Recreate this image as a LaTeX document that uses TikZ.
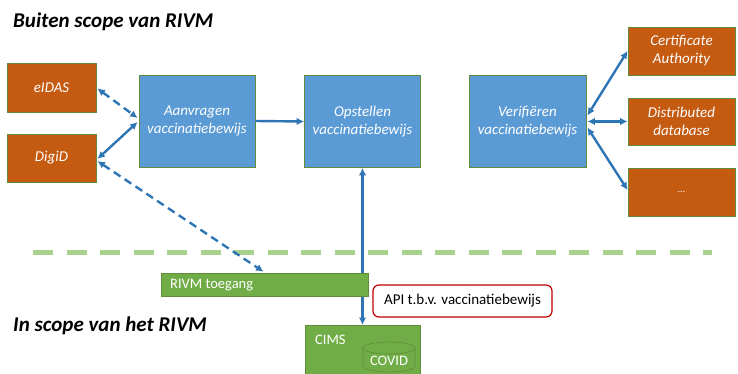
\documentclass[tikz,border=0pt]{standalone}
\usepackage{fontspec}
\setmainfont{Carlito}
\usetikzlibrary{arrows.meta,calc}
\definecolor{boxblue}{RGB}{91,155,213}
\definecolor{boxorange}{RGB}{197,90,17}
\definecolor{boxgreen}{RGB}{112,173,71}
\definecolor{edgegreen}{RGB}{96,140,60}
\definecolor{arrowblue}{RGB}{46,117,182}
\definecolor{dashgreen}{RGB}{169,209,142}
\definecolor{apired}{RGB}{192,0,0}
\tikzset{
  bluebox/.style={draw=edgegreen, line width=0.8pt, fill=boxblue, text=white, font=\fontsize{15}{18}\selectfont\itshape, align=center, inner sep=0pt, minimum width=116pt, minimum height=92pt},
  orangebox/.style={draw=edgegreen, line width=0.8pt, fill=boxorange, text=white, font=\fontsize{15}{18}\selectfont\itshape, align=center, inner sep=0pt},
  greenbox/.style={draw=edgegreen, line width=0.6pt, fill=boxgreen, text=white, inner sep=0pt},
  plaintext/.style={text=white, font=\fontsize{14.5}{17}\selectfont, inner sep=0pt},
  conn/.style={draw=arrowblue, line width=2.4pt},
  tip/.style={{Latex[length=7.5pt,width=7.5pt]}-{Latex[length=7.5pt,width=7.5pt]}},
  onetip/.style={-{Latex[length=7.5pt,width=7.5pt]}},
  dconn/.style={conn, dash pattern=on 8pt off 5pt},
  title/.style={font=\fontsize{21}{25}\selectfont\bfseries\itshape, anchor=west, inner sep=0pt}
}
\begin{document}
\begin{tikzpicture}[x=1pt,y=-1pt]
\useasboundingbox (0,0) rectangle (738,374);
% titles
\node[title] (t1) at (13,22) {Buiten scope van RIVM};
\node[title] (t2) at (13,326) {In scope van het RIVM};
% left orange boxes
\node[orangebox, minimum width=89pt, minimum height=49pt] (eidas) at (51.5,87.5) {eIDAS};
\node[orangebox, minimum width=89pt, minimum height=48pt] (digid) at (51.5,158) {DigiD};
% blue boxes
\node[bluebox] (aanv) at (197,121) {Aanvragen\\vaccinatiebewijs};
\node[bluebox] (opst) at (362.5,121.5) {Opstellen\\vaccinatiebewijs};
\node[bluebox, minimum width=117pt] (verif) at (527.5,121.5) {Verifiëren\\vaccinatiebewijs};
% right orange boxes
\node[orangebox, minimum width=107pt, minimum height=48pt] (cert) at (681.5,51) {Certificate\\Authority};
\node[orangebox, minimum width=107pt, minimum height=47pt] (dist) at (681.5,121.5) {Distributed\\database};
\node[orangebox, minimum width=107pt, minimum height=48pt] (dots) at (681.5,192) {\fontsize{10}{12}\selectfont\upshape ...};
% green dashed scope line
\coordinate (dl) at (33,252);
\coordinate (dr) at (712,252);
\draw[dashgreen, line width=5pt, dash pattern=on 20pt off 13.5pt] (dl) -- (dr);
% vertical connector (behind RIVM toegang)
\draw[conn, tip] (opst.south) -- (362.5,325);
% RIVM toegang
\node[greenbox, minimum width=207pt, minimum height=23pt] (rivm) at (264.5,284.5) {};
\node[plaintext, anchor=west] (rivmt) at (170,285) {RIVM toegang};
% CIMS
\node[greenbox, minimum width=115pt, minimum height=60pt, anchor=north] (cims) at (362.5,325) {};
\node[plaintext, anchor=west] (cimst) at (315,340) {CIMS};
% cylinder COVID
\draw[edgegreen, line width=0.6pt, fill=boxgreen] (363,348) -- (363,366) arc[start angle=180, end angle=360, x radius=26pt, y radius=6pt] -- (415,348);
\draw[edgegreen, line width=0.6pt, fill=boxgreen] (389,348) ellipse [x radius=26pt, y radius=6pt];
\node[plaintext] (covid) at (389,361) {COVID};
% API label
\node[draw=apired, line width=1.2pt, rounded corners=6pt, fill=white, minimum width=179pt, minimum height=32pt, font=\fontsize{15}{18}\selectfont, inner sep=0pt] (api) at (462.5,301) {API t.b.v. vaccinatiebewijs};
% connectors left
\draw[dconn, tip] ($(eidas.east)+(1,1)$) -- ($(aanv.west)+(-1,-3)$);
\draw[conn, tip] ($(digid.east)+(1,1)$) -- ($(aanv.west)+(-1,1)$);
\draw[dconn, tip] ($(digid.east)+(1,3)$) -- ($(rivm.north)+(-1,-1)$);
\draw[conn, onetip] (aanv.east) -- (opst.west);
% connectors right
\draw[conn, tip] ($(verif.east)+(1,-6)$) -- (cert.west);
\draw[conn, tip] ($(verif.east)+(1,0)$) -- (dist.west);
\draw[conn, tip] ($(verif.east)+(1,6)$) -- ($(dots.west)+(0,-2)$);
\end{tikzpicture}
\end{document}
